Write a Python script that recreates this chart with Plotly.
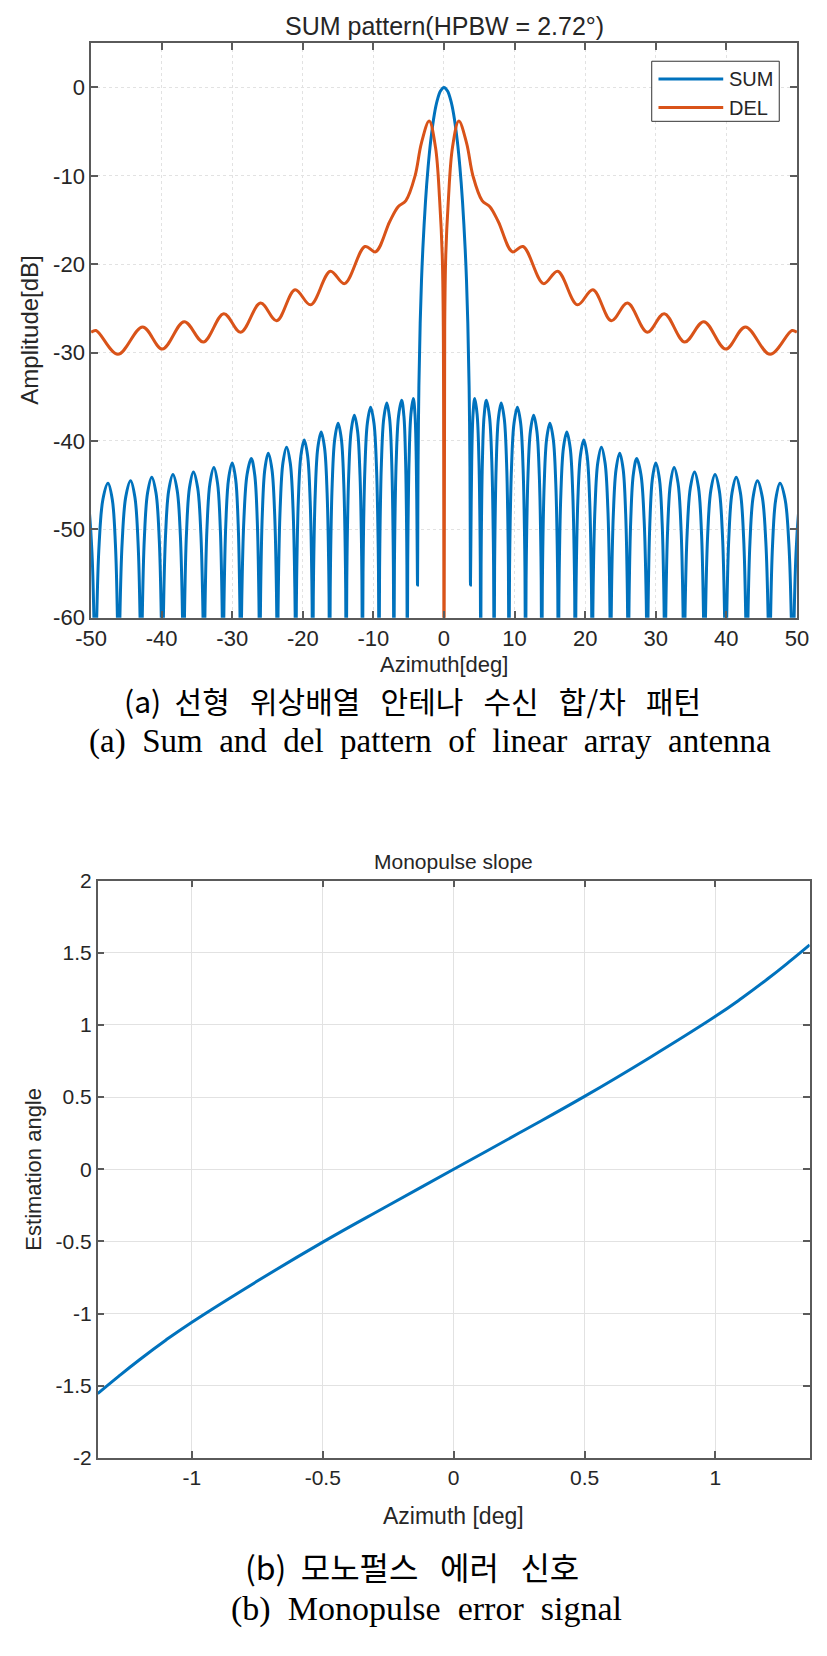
import plotly.graph_objects as go

# ---------------- (a) SUM / DEL patterns ----------------
# SUM main lobe (between the two shallow first nulls)
sum_main_az = [-3.71, -3.675, -3.56, -3.375, -3.19, -3.0, -2.625, -2.25, -1.875, -1.36, -0.94, -0.5, 0.0,
               0.5, 0.94, 1.36, 1.875, 2.25, 2.625, 3.0, 3.19, 3.375, 3.56, 3.675, 3.71]
sum_main_db = [-49.2, -42.9, -34.0, -26.7, -21.9, -18.3, -12.95, -9.0, -6.0, -3.0, -1.42, -0.41, 0.0,
               -0.41, -1.42, -3.0, -6.0, -9.0, -12.95, -18.3, -21.9, -26.7, -34.0, -42.9, -49.2]

# SUM nulls (azimuth, depth) and sidelobe peaks (azimuth, level)
sum_null_az = [-52.8, -49.4, -46.1, -42.9, -39.9, -36.9, -34.0, -31.3, -28.8, -26.1, -23.6, -21.0,
               -18.6, -16.2, -13.85, -11.55, -9.2, -7.1, -5.2, -3.75,
               3.75, 5.2, 7.1, 9.2, 11.55, 13.85, 16.2, 18.6, 21.0, 23.6, 26.1, 28.8, 31.3, 34.0,
               36.9, 39.9, 42.9, 46.1, 49.4, 52.8]
sum_null_db = [-100, -100, -100, -100, -100, -100, -100, -100, -100, -100, -100, -100,
               -100, -100, -100, -100, -100, -100, -100, -56.3,
               -56.3, -100, -100, -100, -100, -100, -100, -100, -100, -100, -100, -100, -100, -100,
               -100, -100, -100, -100, -100, -100]
sum_peak_az = [-51.1, -47.6, -44.4, -41.4, -38.4, -35.5, -32.6, -30.0, -27.3, -24.9, -22.3, -19.8,
               -17.4, -15.0, -12.7, -10.4, -8.1, -6.0, -4.35,
               4.35, 6.0, 8.1, 10.4, 12.7, 15.0, 17.4, 19.8, 22.3, 24.9, 27.3, 30.0, 32.6, 35.5,
               38.4, 41.4, 44.4, 47.6, 51.1]
sum_peak_db = [-45.2, -44.8, -44.5, -44.1, -43.8, -43.5, -43.0, -42.5, -42.0, -41.4, -40.7, -39.9,
               -39.0, -38.0, -37.1, -36.2, -35.7, -35.4, -35.2,
               -35.2, -35.4, -35.7, -36.2, -37.1, -38.0, -39.0, -39.9, -40.7, -41.4, -42.0, -42.5,
               -43.0, -43.5, -43.8, -44.1, -44.5, -44.8, -45.2]
# sidelobe flank shape: position as fraction of null->peak distance, and level below the peak
lobe_flank_frac = [0.04, 0.1, 0.3, 0.6]
lobe_flank_drop_db = [24.0, 16.0, 6.9, 1.8]

# DEL pattern: ripple peaks / troughs
del_az = [-50.0, -49.3, -46.2, -42.7, -39.9, -36.8, -34.1, -31.2, -28.8, -26.0, -23.7, -21.1,
          -18.9, -16.1, -14.1, -11.2, -9.7, -7.7, -6.5, -5.4, -4.1, -3.2, -2.1, -1.2, -0.6,
          -0.25, -0.1, 0.0, 0.1, 0.25, 0.6, 1.2, 2.1, 3.2, 4.1, 5.4, 6.5, 7.7, 9.7, 11.2, 14.1,
          16.1, 18.9, 21.1, 23.7, 26.0, 28.8, 31.2, 34.1, 36.8, 39.9, 42.7, 46.2, 49.3, 50.0]
del_db = [-27.7, -27.5, -30.2, -27.1, -29.6, -26.5, -28.8, -25.6, -27.7, -24.4, -26.4, -22.9,
          -24.6, -20.8, -22.2, -18.0, -18.6, -15.2, -13.5, -12.8, -10.0, -6.3, -3.8, -6.8, -13.0,
          -19.0, -27.0, -100.0, -27.0, -19.0, -13.0, -6.8, -3.8, -6.3, -10.0, -12.8, -13.5, -15.2,
          -18.6, -18.0, -22.2, -20.8, -24.6, -22.9, -26.4, -24.4, -27.7, -25.6, -28.8, -26.5,
          -29.6, -27.1, -30.2, -27.5, -27.7]

# ---------------- (b) Monopulse slope ----------------
mono_az = [-1.36, -1.28, -1.2, -1.1, -1.0, -0.75, -0.5, -0.25, 0.0,
           0.25, 0.5, 0.75, 1.0, 1.1, 1.2, 1.28, 1.36]
mono_est = [-1.555, -1.435, -1.32, -1.185, -1.06, -0.775, -0.505, -0.251, 0.0,
            0.251, 0.505, 0.775, 1.06, 1.185, 1.32, 1.435, 1.555]

# ticks
x1_tickvals = [-50, -40, -30, -20, -10, 0, 10, 20, 30, 40, 50]
x1_ticktext = ["-50", "-40", "-30", "-20", "-10", "0", "10", "20", "30", "40", "50"]
y1_tickvals = [-60, -50, -40, -30, -20, -10, 0]
y1_ticktext = ["-60", "-50", "-40", "-30", "-20", "-10", "0"]
x2_tickvals = [-1, -0.5, 0, 0.5, 1]
x2_ticktext = ["-1", "-0.5", "0", "0.5", "1"]
y2_tickvals = [-2, -1.5, -1, -0.5, 0, 0.5, 1, 1.5, 2]
y2_ticktext = ["-2", "-1.5", "-1", "-0.5", "0", "0.5", "1", "1.5", "2"]
legend_names = ["SUM", "DEL"]

# ---------- build SUM polyline from nulls / peaks ----------
sum_x, sum_y = [sum_null_az[0]], [sum_null_db[0]]
n_left = 19
for j in range(len(sum_null_az) - 1):
    nl, nr = sum_null_az[j], sum_null_az[j + 1]
    dl, dr = sum_null_db[j], sum_null_db[j + 1]
    if j == n_left:
        sum_x += sum_main_az
        sum_y += sum_main_db
    else:
        k = j if j < n_left else j - 1
        p, L = sum_peak_az[k], sum_peak_db[k]
        for f, d in zip(lobe_flank_frac, lobe_flank_drop_db):
            if L - d > dl + 2:
                sum_x.append(nl + f * (p - nl)); sum_y.append(L - d)
        sum_x.append(p); sum_y.append(L)
        for f, d in zip(reversed(lobe_flank_frac), reversed(lobe_flank_drop_db)):
            if L - d > dr + 2:
                sum_x.append(nr - f * (nr - p)); sum_y.append(L - d)
    sum_x.append(nr); sum_y.append(dr)

BLUE = "#0072BD"
ORANGE = "#D95319"
FONT = "Liberation Sans"
W, H = 827, 1656

def px_x(v):
    return v / W

def px_y(v):
    return 1 - v / H

fig = go.Figure()
fig.add_trace(go.Scatter(x=sum_x, y=sum_y, mode="lines", name=legend_names[0], showlegend=False,
                         line=dict(color=BLUE, width=3, shape="spline", smoothing=1.0),
                         xaxis="x", yaxis="y"))
fig.add_trace(go.Scatter(x=del_az, y=del_db, mode="lines", name=legend_names[1], showlegend=False,
                         line=dict(color=ORANGE, width=3, shape="spline", smoothing=1.0),
                         xaxis="x", yaxis="y"))
fig.add_trace(go.Scatter(x=mono_az, y=mono_est, mode="lines", showlegend=False,
                         line=dict(color=BLUE, width=3, shape="spline", smoothing=1.3),
                         xaxis="x2", yaxis="y2"))

axis_common = dict(showline=True, linecolor="#5a5a5a", linewidth=1.5, mirror="all",
                   ticks="inside", ticklen=7, tickwidth=1.5, tickcolor="#5a5a5a",
                   showgrid=True, gridcolor="#e2e2e2", gridwidth=1, zeroline=False,
                   tickmode="array")

fig.update_layout(
    width=W, height=H, margin=dict(l=0, r=0, t=0, b=0),
    paper_bgcolor="white", plot_bgcolor="white",
    font=dict(family=FONT, color="#262626"),
    xaxis=dict(axis_common, domain=[px_x(77.7), px_x(808.3)], range=[-50, 50],
               tickvals=x1_tickvals, ticktext=x1_ticktext, anchor="y",
               tickfont=dict(size=22), griddash="dot"),
    yaxis=dict(axis_common, domain=[px_y(615), px_y(31.7)], range=[-60, 5],
               tickvals=y1_tickvals, ticktext=y1_ticktext, anchor="x",
               tickfont=dict(size=22), griddash="dot"),
    xaxis2=dict(axis_common, domain=[px_x(84.5), px_x(821.5)], range=[-1.36, 1.36],
                tickvals=x2_tickvals, ticktext=x2_ticktext, anchor="y2",
                tickfont=dict(size=21)),
    yaxis2=dict(axis_common, domain=[px_y(1468), px_y(882)], range=[-2, 2],
                tickvals=y2_tickvals, ticktext=y2_ticktext, anchor="x2",
                tickfont=dict(size=21)),
    showlegend=False,
)

ann = []
def add_text(text, x, y, size, family=FONT, angle=0, color="#262626", xanchor="center"):
    ann.append(dict(text=text, x=px_x(x), y=px_y(y), xref="paper", yref="paper",
                    xanchor=xanchor, yanchor="middle", showarrow=False, textangle=angle,
                    font=dict(size=size, family=family, color=color)))

# hand-drawn legend box (long line samples as in the reference)
shapes = [dict(type="rect", xref="paper", yref="paper", x0=px_x(658), x1=px_x(790),
               y0=px_y(111), y1=px_y(50), line=dict(color="#333333", width=1),
               fillcolor="white", layer="above")]
for name, col, yy in [(legend_names[0], BLUE, 68), (legend_names[1], ORANGE, 97)]:
    shapes.append(dict(type="line", xref="paper", yref="paper", x0=px_x(665), x1=px_x(732),
                       y0=px_y(yy), y1=px_y(yy), line=dict(color=col, width=3), layer="above"))
    add_text(name, 736, yy, 20, xanchor="left")

SP = "\u00a0"
add_text("SUM pattern(HPBW = 2.72°)", 443, 14, 25)
add_text("Azimuth[deg]", 443, 663, 22)
add_text("(a)" + SP + " 선형" + SP + SP + " 위상배열" + SP + SP + " 안테나" + SP + SP + " 수신"
         + SP + SP + " 합/차" + SP + SP + " 패턴", 410, 699, 30, family="Noto Sans CJK KR", color="black")
add_text("Amplitude[dB]", 14, 323, 24, angle=-90)
add_text("(a) " + SP + "Sum " + SP + "and " + SP + "del " + SP + "pattern " + SP + "of " + SP + "linear "
         + SP + "array " + SP + "antenna", 428, 741, 33, family="Liberation Serif", color="black")

add_text("Monopulse slope", 453, 863, 21)
add_text("Azimuth [deg]", 453, 1527, 23)
add_text("Estimation angle", 18, 1175, 22, angle=-90)
add_text("(b)" + SP + " 모노펄스" + SP + SP + " 에러" + SP + SP + " 신호", 410, 1578, 32,
         family="Noto Sans CJK KR", color="black")
add_text("(b) " + SP + "Monopulse " + SP + "error " + SP + "signal", 425, 1621, 34,
         family="Liberation Serif", color="black")

fig.update_layout(annotations=ann, shapes=shapes)
fig.write_html("out.html", post_script="document.body.style.margin='0px';")
